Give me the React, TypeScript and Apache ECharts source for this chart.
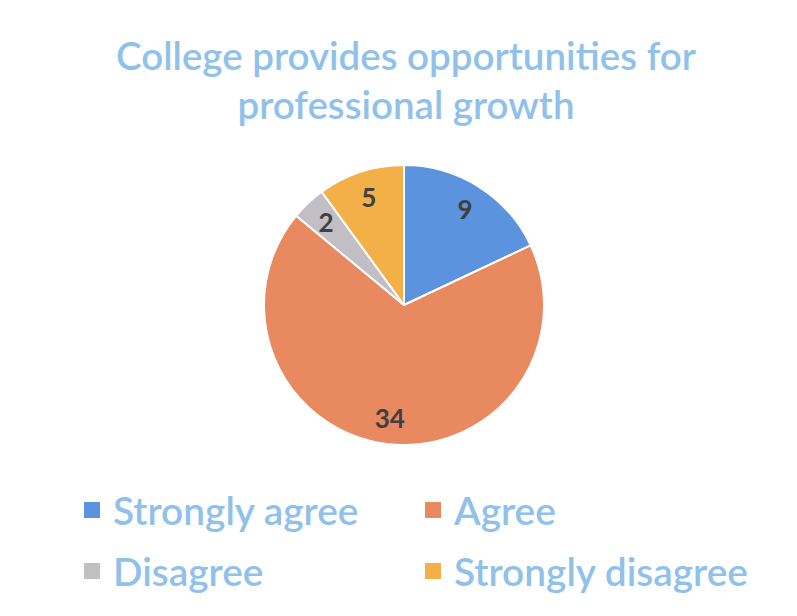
import React, { useEffect, useRef } from "react";
import * as echarts from "echarts";

const titleText = "College provides opportunities for\nprofessional growth";
const categories = ["Strongly agree", "Agree", "Disagree", "Strongly disagree"];
const values = [9, 34, 2, 5];
const colors = ["#5b93de", "#e8895f", "#c2bfc4", "#f4b048"];
const leftLegend = ["Strongly agree", "Disagree"];
const rightLegend = ["Agree", "Strongly disagree"];

export default function App() {
  const ref = useRef<HTMLDivElement>(null);
  useEffect(() => {
    document.body.style.margin = "0";
    const chart = echarts.init(ref.current!, null, { renderer: "svg" });
    const data = categories.map((c, i) => ({
      name: c,
      value: values[i],
      itemStyle: { color: colors[i] },
    }));
    const legendCommon = {
      orient: "vertical" as const,
      top: 488,
      padding: 0,
      itemGap: 17,
      icon: "rect",
      itemWidth: 18,
      itemHeight: 18,
      textStyle: {
        fontFamily: "Lato",
        fontSize: 38.8,
        fontWeight: 600,
        color: "#8fc1ea",
        lineHeight: 44,
        padding: [0, 0, 0, 7],
      },
    };
    chart.setOption({
      animation: false,
      backgroundColor: "#ffffff",
      title: {
        text: titleText,
        left: 406,
        textAlign: "center",
        top: 30,
        padding: 0,
        textStyle: {
          fontFamily: "Lato",
          fontSize: 38.5,
          fontWeight: 600,
          color: "#8fc1ea",
          lineHeight: 49,
        },
      },
      legend: [
        {
          ...legendCommon,
          left: 82,
          data: leftLegend.map((n) => ({
            name: n,
            itemStyle: { color: colors[categories.indexOf(n)] },
          })),
        },
        {
          ...legendCommon,
          left: 423,
          data: rightLegend.map((n) => ({
            name: n,
            itemStyle: { color: colors[categories.indexOf(n)] },
          })),
        },
      ],
      series: [
        {
          type: "pie",
          center: [404, 305],
          radius: [0, 140],
          startAngle: 90,
          clockwise: true,
          silent: true,
          label: { show: false },
          labelLine: { show: false },
          itemStyle: { borderColor: "#ffffff", borderWidth: 2 },
          data,
        },
        {
          type: "pie",
          center: [404, 305],
          radius: [82, 140],
          startAngle: 90,
          clockwise: true,
          silent: true,
          itemStyle: { color: "transparent", borderWidth: 0 },
          label: {
            show: true,
            position: "inside",
            formatter: "{c}",
            fontFamily: "Lato",
            fontWeight: "bold",
            fontSize: 26,
            color: "#404040",
          },
          labelLine: { show: false },
          data: categories.map((c, i) => ({ name: c, value: values[i] })),
        },
      ],
    });
    return () => chart.dispose();
  }, []);
  return <div ref={ref} style={{ width: 797, height: 616 }} />;
}
